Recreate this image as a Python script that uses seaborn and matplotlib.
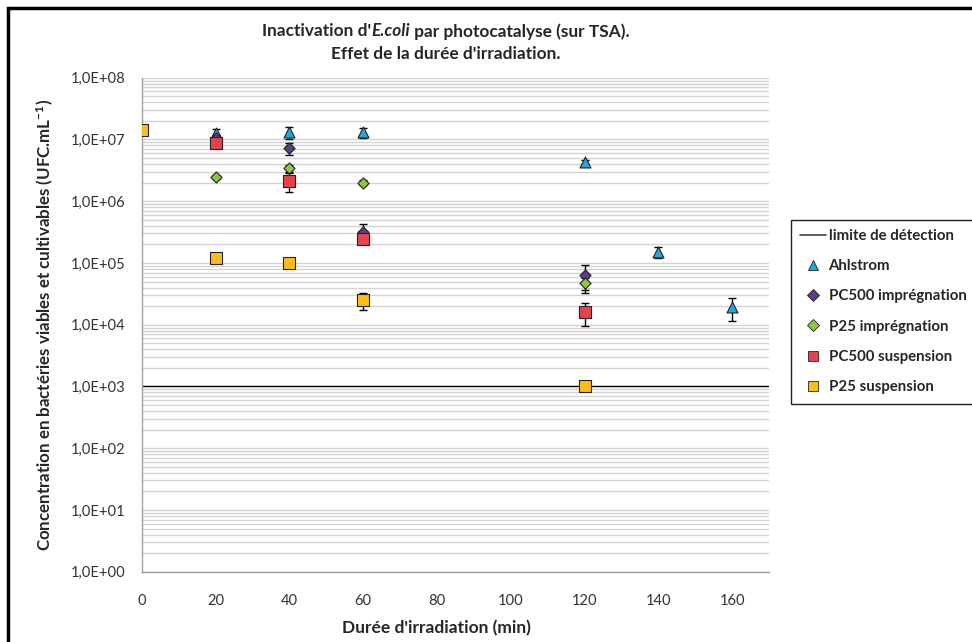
import numpy as np
import pandas as pd
import matplotlib
matplotlib.use("Agg")
import matplotlib.pyplot as plt
import seaborn as sns
from matplotlib.ticker import FixedLocator, FuncFormatter, LogLocator, NullFormatter
from matplotlib.lines import Line2D
from matplotlib.patches import Rectangle

# ---- data ----
ahl_x = [20, 40, 60, 120, 140, 160]
ahl_y = [1.25e7, 1.3e7, 1.3e7, 4.3e6, 1.5e5, 1.95e4]
ahl_e = [2.5e6, 3.0e6, 2.5e6, 3e5, 3e4, 8e3]

pc500i_x = [20, 40, 60, 120]
pc500i_y = [1.05e7, 7.2e6, 3.2e5, 6.3e4]
pc500i_e = [1.5e6, 1.7e6, 1.1e5, 3.0e4]

p25i_x = [20, 40, 60, 120]
p25i_y = [2.5e6, 3.4e6, 2.0e6, 4.7e4]
p25i_e = [2e5, 4e5, 2e5, 1.0e4]

pc500s_x = [20, 40, 60, 120]
pc500s_y = [8.7e6, 2.15e6, 2.4e5, 1.62e4]
pc500s_e = [1e6, 7.2e5, 3e4, 6.5e3]

p25s_x = [0, 20, 40, 60, 120]
p25s_y = [1.4e7, 1.22e5, 9.8e4, 2.5e4, 1.0e3]
p25s_e = [1e6, 1.5e4, 1.2e4, 8e3, 0]

detection_limit = 1e3

series_names = ["Ahlstrom", "PC500 imprégnation", "P25 imprégnation",
                "PC500 suspension", "P25 suspension"]
series_x = [ahl_x, pc500i_x, p25i_x, pc500s_x, p25s_x]
series_y = [ahl_y, pc500i_y, p25i_y, pc500s_y, p25s_y]
series_e = [ahl_e, pc500i_e, p25i_e, pc500s_e, p25s_e]
colors = ["#1FA7E0", "#5A3E8A", "#8DC63F", "#E8434A", "#FDBE14"]
markers = ["^", "D", "D", "s", "s"]
sizes = [62, 32, 32, 75, 75]

x_ticks = [0, 20, 40, 60, 80, 100, 120, 140, 160]

sns.set_theme(style="white")
plt.rcParams['font.family'] = ['Lato', 'DejaVu Sans']
plt.rcParams['mathtext.fontset'] = 'custom'
plt.rcParams['mathtext.bf'] = 'Lato:bold'
plt.rcParams['mathtext.rm'] = 'Lato:bold'
plt.rcParams['mathtext.default'] = 'bf'

fig = plt.figure(figsize=(9.72, 6.42), dpi=100)
ax = fig.add_axes([141.7/972, 1 - 571.7/642, (769 - 141.7)/972, (571.7 - 77.7)/642])

ax.set_yscale("log")
ax.set_ylim(1, 1e8)
ax.set_xlim(0, 170)

# grid lines
ax.yaxis.set_major_locator(LogLocator(base=10, numticks=20))
ax.yaxis.set_minor_locator(LogLocator(base=10, subs=np.arange(2, 10), numticks=20))
ax.yaxis.set_minor_formatter(NullFormatter())
ax.grid(True, which="both", axis="y", color="#d3d3d3", linewidth=1.0)
ax.grid(False, axis="x")
ax.set_axisbelow(True)

# detection limit
ax.axhline(detection_limit, color="black", linewidth=1.0, zorder=2)

for name, xs, ys, es, c, m, s in zip(series_names, series_x, series_y, series_e,
                                     colors, markers, sizes):
    ax.errorbar(xs, ys, yerr=es, fmt="none", ecolor="black", elinewidth=1.0,
                capsize=3, capthick=1.0, zorder=3)
    df = pd.DataFrame({"x": xs, "y": ys})
    sns.scatterplot(data=df, x="x", y="y", ax=ax, marker=m, s=s, color=c,
                    edgecolor="#222222", linewidth=0.8, zorder=4, legend=False)

ax.set_xlabel("")
ax.set_ylabel("")
ax.xaxis.set_major_locator(FixedLocator(x_ticks))
ax.yaxis.set_major_formatter(FuncFormatter(lambda v, p: "1,0E+%02d" % int(round(np.log10(v)))))
ax.tick_params(axis="both", which="major", direction="out", length=5, width=1,
               color="#a0a0a0", labelsize=10.6, labelcolor="#333333")
ax.tick_params(axis="y", which="major", pad=7)
ax.tick_params(axis="x", which="major", pad=11)
ax.tick_params(axis="y", which="minor", length=0)

for side in ["top", "right"]:
    ax.spines[side].set_visible(False)
for side in ["left", "bottom"]:
    ax.spines[side].set_color("#a0a0a0")
    ax.spines[side].set_linewidth(1.0)

# title (line 1 assembled from pieces so E.coli is italic)
renderer = fig.canvas.get_renderer()
tfs = 12.4
pieces = [("Inactivation d'", "normal"), ("E.coli", "italic"),
          (" par photocatalyse (sur TSA).", "normal")]
texts = []
for s, st in pieces:
    t = fig.text(0, 1 - 31.5/642, s, ha="left", va="center", fontsize=tfs,
                 fontweight="bold", fontstyle=st)
    texts.append(t)
widths = [t.get_window_extent(renderer).width for t in texts]
total = sum(widths)
x0 = 446 - total / 2
for t, w in zip(texts, widths):
    t.set_x(x0 / 972)
    x0 += w
fig.text(446/972, 1 - 54/642, "Effet de la durée d'irradiation.",
         ha="center", va="center", fontsize=tfs, fontweight="bold")
fig.text(45/972, 1 - 325/642,
         "Concentration en bactéries viables et cultivables (UFC.mL$^{-1}$)",
         ha="center", va="center", rotation=90, fontsize=12.2, fontweight="bold")
fig.text(436/972, 1 - 628/642, "Durée d'irradiation (min)",
         ha="center", va="center", fontsize=12.5, fontweight="bold")

# legend (frame drawn separately so it runs past the right edge, as in the reference)
handles = [Line2D([0], [0], color="#444444", linewidth=1.2)]
for c, m in zip(colors, markers):
    handles.append(Line2D([0], [0], linestyle="none", marker=m,
                          markersize=6.5 if m == "D" else 7,
                          markerfacecolor=c, markeredgecolor="#222222", markeredgewidth=0.6))
labels = ["limite de détection"] + series_names
leg = fig.legend(handles, labels, loc="upper left", bbox_to_anchor=(791/972, 1 - 220/642),
                 borderaxespad=0, frameon=False,
                 handlelength=1.75, handletextpad=0.15, labelspacing=1.08, borderpad=0.6,
                 prop={"weight": "bold", "size": 10.8})
fig.patches.append(Rectangle((791/972, 1 - 404/642), 0.3, 184/642, transform=fig.transFigure,
                             fill=True, facecolor="white", edgecolor="#222222", linewidth=1.0,
                             zorder=0))

# outer frame
fig.patches.append(Rectangle((8/972, -0.1), 1.2, 1 - 8/642 + 0.1, transform=fig.transFigure,
                             fill=False, edgecolor="black", linewidth=2.5))

fig.savefig("out.png", dpi=100)
